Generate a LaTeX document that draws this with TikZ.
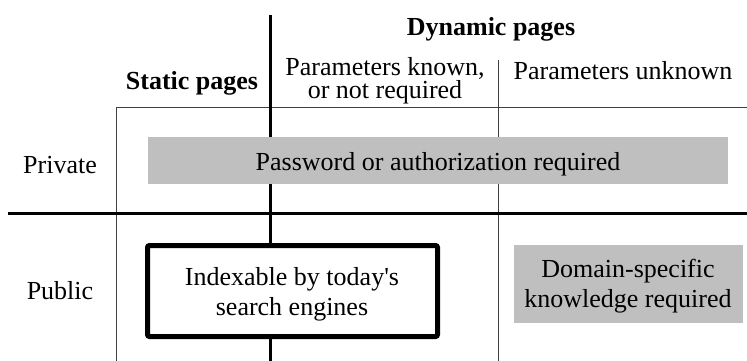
\documentclass[tikz,border=0pt]{standalone}
\usepackage{fontspec}
\setmainfont{Liberation Serif}[Ligatures=TeXOff]
\begin{document}
\begin{tikzpicture}[x=1pt,y=-1pt,
  txt/.style={inner sep=0pt,anchor=base,font=\fontsize{26}{30}\selectfont},
  head/.style={txt,font=\fontsize{26}{30}\selectfont\bfseries},
  thinline/.style={line width=1pt,draw=black!75},
  thickline/.style={line width=3pt,draw=black},
  graybox/.style={fill=black!25,draw=none},
  indexbox/.style={fill=white,draw=black,line width=5pt,rounded corners=2pt}]
\useasboundingbox (0,0) rectangle (747,361);
% grid lines
\draw[thinline] (116,361) -- (116,107) -- (747,107);
\draw[thinline] (498,60) -- (498,361);
\draw[thickline] (270,15) -- (270,361);
\draw[thickline] (8,213) -- (747,213);
% boxes
\fill[graybox] (148,137) rectangle (728,184);
\fill[graybox] (514,245) rectangle (743,323);
\draw[indexbox] (147.5,245.5) rectangle (437.5,336.5);
% texts
\node[head] (dyn) at (491,36) {Dynamic pages};
\node[head] (stat) at (192,89) {Static pages};
\node[txt,align=center,font=\fontsize{26}{21}\selectfont] (known) at (385,99) {Parameters known,\\or not required};
\node[txt] (unknown) at (623,79) {Parameters unknown};
\node[txt] (priv) at (60,173) {Private};
\node[txt] (pub) at (60,299) {Public};
\node[txt] (pwd) at (438,170) {Password or authorization required};
\node[txt,align=center] (idx) at (292,315) {Indexable by today's\\search engines};
\node[txt,align=center] (dom) at (628,307) {Domain-specific\\knowledge required};
\end{tikzpicture}
\end{document}
